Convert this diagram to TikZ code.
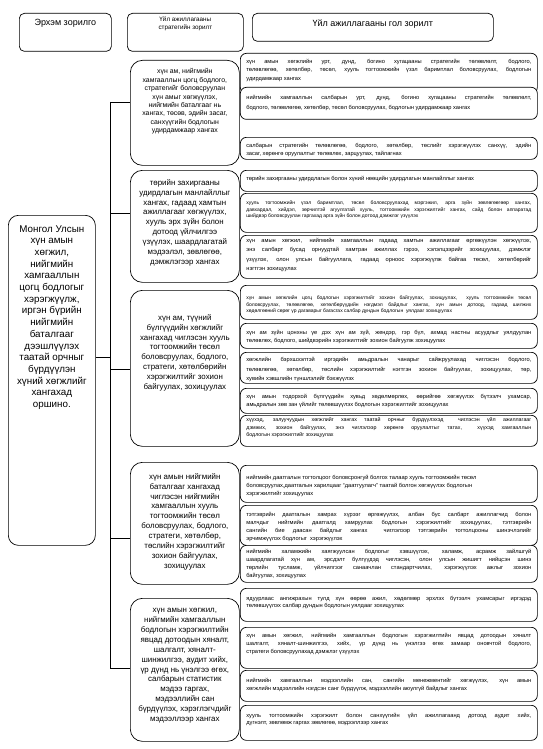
\documentclass[tikz,border=0pt]{standalone}
\usepackage{fontspec}
\setmainfont{Liberation Sans}
\usetikzlibrary{positioning}
\hyphenpenalty=10000
\tolerance=9999

% box text: [top pad]{width}{height}{text}, text starts at the top
\newcommand{\cellbox}[4][5pt]{\parbox[c][#3][t]{#2}{\vspace*{#1}#4}}

\begin{document}
\begin{tikzpicture}[
    x=1pt, y=-1pt,
    line width=0.7pt,
    headbox/.style={draw, rounded corners=5pt, anchor=north west, inner sep=0pt,
                    font=\fontsize{9}{11}\selectfont},
    goalbox/.style={draw, rounded corners=10pt, anchor=north west, inner xsep=2.5pt,
                    inner ysep=0pt, font=\fontsize{9.8}{11.7}\selectfont},
    stratbox/.style={draw, fill=white, rounded corners=12pt, anchor=north west,
                     inner xsep=2.5pt, inner ysep=0pt, font=\fontsize{7.9}{9.9}\selectfont},
    taskbox/.style={draw, fill=white, rounded corners=6pt, anchor=north west,
                    inner xsep=6pt, inner ysep=0pt, font=\fontsize{5.7}{8.3}\selectfont},
    smalltask/.style={taskbox, font=\fontsize{5}{6.7}\selectfont},
    link/.style={draw, line width=0.7pt},
  ]
    \useasboundingbox (0,0) rectangle (543,749);

    %% -- Column headings ------------------------------------
    \node[headbox] (hmission) at (19,13)
      {\cellbox[5.5pt]{92pt}{38pt}{\centering Эрхэм зорилго}};
    \node[headbox, font=\fontsize{6.3}{8}\selectfont] (hstrat) at (127,13)
      {\cellbox[3.5pt]{116pt}{38pt}{\centering Үйл ажиллагааны\\ стратегийн зорилт}};
    \node[headbox] (hmain) at (252,13)
      {\cellbox[6pt]{241pt}{28pt}{\centering Үйл ажиллагааны гол зорилт}};

    %% -- Mission --------------------------------------------
    \node[goalbox] (goal) at (8,215)
      {\cellbox[10pt]{82pt}{330pt}{\centering Монгол Улсын\\ хүн амын\\ хөгжил,\\ нийгмийн\\
        хамгааллын\\ цогц бодлогыг\\ хэрэгжүүлж,\\ иргэн бүрийн\\ нийгмийн\\ баталгааг\\
        дээшлүүлэх\\ таатай орчныг\\ бүрдүүлэн\\ хүний хөгжлийг\\ хангахад\\ оршино.}};

    %% -- Strategic objectives -------------------------------
    \node[stratbox, font=\fontsize{6.9}{8.4}\selectfont] (m1) at (130,60)
      {\cellbox[8.5pt]{104pt}{105pt}{\centering хүн ам, нийгмийн\\ хамгааллын цогц бодлого,\\
        стратегийг боловсруулан\\ хүн амыг хөгжүүлэх,\\ нийгмийн баталгааг нь\\
        хангах, төсөв, эдийн засаг,\\ санхүүгийн бодлогын\\ удирдамжаар хангах}};
    \node[stratbox] (m2) at (130,170)
      {\cellbox[9pt]{104pt}{112pt}{\centering төрийн захиргааны\\ удирдлагын манлайллыг\\
        хангах, гадаад хамтын\\ ажиллагааг хөгжүүлэх,\\ хууль эрх зүйн болон\\
        дотоод үйлчилгээ\\ үзүүлэх, шаардлагатай\\ мэдээлэл, зөвлөгөө,\\ дэмжлэгээр хангах}};
    \node[stratbox] (m3) at (130,290)
      {\cellbox[24pt]{104pt}{156pt}{\centering хүн ам, түүний\\ бүлгүүдийн хөгжлийг\\
        хангахад чиглэсэн хууль\\ тогтоомжийн төсөл\\ боловсруулах, бодлого,\\
        стратеги, хөтөлбөрийн\\ хэрэгжилтийг зохион\\ байгуулах, зохицуулах}};
    \node[stratbox] (m4) at (130,462)
      {\cellbox[11pt]{104pt}{122pt}{\centering хүн амын нийгмийн\\ баталгааг хангахад\\
        чиглэсэн нийгмийн\\ хамгааллын хууль\\ тогтоомжийн төсөл\\ боловсруулах, бодлого,\\
        стратеги, хөтөлбөр,\\ төслийн хэрэгжилтийг\\ зохион байгуулах,\\ зохицуулах}};
    \node[stratbox] (m5) at (130,598)
      {\cellbox[10pt]{104pt}{143pt}{\centering хүн амын хөгжил,\\ нийгмийн хамгааллын\\
        бодлогын хэрэгжилтийн\\ явцад дотоодын хяналт,\\ шалгалт, хяналт-\\
        шинжилгээ, аудит хийх,\\ үр дүнд нь үнэлгээ өгөх,\\ салбарын статистик\\
        мэдээ гаргах,\\ мэдээллийн сан\\ бүрдүүлэх, хэрэглэгчдийг\\ мэдээллээр хангах}};

    %% -- Main tasks -----------------------------------------
    \node[taskbox] (r1) at (240,53)
      {\cellbox[6pt]{285pt}{40pt}{хүн амын хөгжлийн урт, дунд, богино хугацааны стратегийн
        төлөвлөлт, бодлого,\linebreak төлөвлөгөө, хөтөлбөр, төсөл, хууль тогтоомжийн үзэл
        баримтлал боловсруулах, бодлогын\linebreak удирдамжаар хангах}};
    \node[taskbox, font=\fontsize{5.7}{9.5}\selectfont] (r2) at (240,87)
      {\cellbox[8pt]{285pt}{32pt}{нийгмийн хамгааллын салбарын урт, дунд, богино хугацааны
        стратегийн төлөвлөлт,\linebreak бодлого, төлөвлөгөө, хөтөлбөр, төсөл боловсруулах,
        бодлогын удирдамжаар хангах}};
    \node[taskbox] (r3) at (240,137)
      {\cellbox[6pt]{285pt}{22pt}{салбарын стратегийн төлөвлөгөө, бодлого, хөтөлбөр, төслийг
        хэрэгжүүлэх санхүү, эдийн\linebreak засаг, хөрөнгө оруулалтыг төлөвлөх, зарцуулах,
        тайлагнах}};
    \node[taskbox] (r4) at (240,170)
      {\cellbox[5.5pt]{285pt}{21pt}{төрийн захиргааны удирдлагын болон хүний нөөцийн
        удирдлагын манлайллыг хангах}};
    \node[smalltask] (r5) at (240,193)
      {\cellbox[7.5pt]{285pt}{39pt}{хууль тогтоомжийн үзэл баримтлал, төсөл боловсруулахад
        мэргэжил, арга зүйн зөвлөгөөгөөр хангах,\linebreak давхардал, хийдэл, зөрчилтэй
        агуулгатай хууль, тогтоомжийн хэрэгжилтийг хангах, сайд болон аппаратад\linebreak
        шийдвэр боловсруулан гаргахад арга зүйн болон дотоод дэмжлэг үзүүлэх}};
    \node[taskbox, font=\fontsize{5.7}{9.5}\selectfont] (r6) at (240,235)
      {\cellbox[2.5pt]{285pt}{43pt}{хүн амын хөгжил, нийгмийн хамгааллын гадаад хамтын
        ажиллагааг өргөжүүлэн хөгжүүлэх,\linebreak энэ салбарт бусад орнуудтай хамтран ажиллах
        гэрээ, хэлэлцээрийг зохицуулах, дэмжлэг\linebreak үзүүлэх, олон улсын байгууллага,
        гадаад орноос хэрэгжүүлж байгаа төсөл, хөтөлбөрийг\linebreak нэгтгэн зохицуулах}};
    \node[smalltask] (r7) at (240,285)
      {\cellbox[10.5pt]{285pt}{34pt}{хүн амын хөгжлийн цогц бодлогын хэрэгжилтийг зохион
        байгуулах, зохицуулах,\ \ хууль тогтоомжийн төсөл\linebreak боловсруулах, төлөвлөгөө,
        хөтөлбөрүүдийн нэгдмэл байдлыг хангах, хүн амын дотоод, гадаад шилжих\linebreak
        хөдөлгөөний сөрөг үр дагаварыг багасгах салбар дундын бодлогын\ \ уялдааг
        зохицуулах}};
    \node[taskbox] (r8) at (240,323)
      {\cellbox[7pt]{285pt}{25pt}{хүн ам зүйн цонхны үе дэх хүн ам зүй, жендэр, гэр бүл,
        ахмад настны асуудлыг уялдуулан\linebreak төлөвлөх, бодлого, шийдвэрийн хэрэгжилтийг
        зохион байгуулж зохицуулах}};
    \node[taskbox, font=\fontsize{5.7}{9.5}\selectfont] (r9) at (240,352)
      {\cellbox[5pt]{285pt}{31pt}{хөгжлийн бэрхшээлтэй иргэдийн амьдралын чанарыг
        сайжруулахад чиглэсэн бодлого,\linebreak төлөвлөгөө, хөтөлбөр, төслийн хэрэгжилтийг
        нэгтгэн зохион байгуулах, зохицуулах, төр,\linebreak хувийн хэвшлийн түншлэлийг
        бэхжүүлэх}};
    \node[taskbox, font=\fontsize{5.7}{8}\selectfont] (r10) at (240,388)
      {\cellbox[6pt]{285pt}{25pt}{хүн амын тодорхой бүлгүүдийн хувьд хөдөлмөрлөх, өөрийгөө
        хөгжүүлэх бүтээлч ухамсар,\linebreak амьдралын зөв зан үйлийг төлөвшүүлэх бодлогын
        хэрэгжилтийг зохицуулах}};
    \node[taskbox, font=\fontsize{5.3}{7.5}\selectfont] (r11) at (240,415)
      {\cellbox[2.5pt]{285pt}{31pt}{хүүхэд, залуучуудын хөгжлийг хангах таатай орчныг
        бүрдүүлэхэд\ \ чиглэсэн үйл ажиллагааг\linebreak дэмжих, зохион байгуулах, энэ
        чиглэлээр хөрөнгө оруулалтыг татах,\ \ хүүхэд хамгааллын\linebreak бодлогын
        хэрэгжилтийг зохицуулах}};
    \node[taskbox, font=\fontsize{5.7}{8}\selectfont] (r12) at (240,465)
      {\cellbox[10pt]{285pt}{37pt}{\raggedright нийгмийн даатгалын тогтолцоог боловсронгуй
        болгох талаар хууль тогтоомжийн төсөл\\ боловсруулах,даатгалын харилцааг
        ``даатгуулагч'' таатай болгон хөгжүүлэх бодлогын\\ хэрэгжилтийг зохицуулах}};
    \node[taskbox, font=\fontsize{5.7}{8.1}\selectfont] (r13) at (240,505)
      {\cellbox[6.5pt]{285pt}{40pt}{тэтгэврийн даатгалын хамрах хүрээг өргөжүүлэх, албан бус
        салбарт ажиллагчид болон\linebreak малчдыг нийгмийн даатгалд хамруулах бодлогын
        хэрэгжилтийг зохицуулах, тэтгэврийн\linebreak сангийн бие даасан байдлыг хангах\ \
        чиглэлээр тэтгэврийн тогтолцооны шинэчлэлийг\linebreak эрчимжүүлэх бодлогыг\ \
        хэрэгжүүлэх}};
    \node[taskbox] (r14) at (240,545)
      {\cellbox[3.5pt]{285pt}{37pt}{нийгмийн халамжийн хаягжуулсан бодлогыг хэвшүүлэх,
        халамж, асрамж зайлшгүй\linebreak шаардлагатай хүн ам, эрсдэлт бүлгүүдэд чиглэсэн,
        олон улсын жишигт нийцсэн шинэ\linebreak төрлийн тусламж, үйлчилгээг санаачлан
        стандартчилах, хэрэгжүүлэх ажлыг зохион\linebreak байгуулах, зохицуулах}};
    \node[taskbox, font=\fontsize{5.7}{7.2}\selectfont] (r15) at (240,588)
      {\cellbox[7.5pt]{285pt}{33pt}{ядуурлаас ангижрахын тулд хүн өөрөө ажил, хөдөлмөр
        эрхлэх бүтээлч ухамсарыг иргэдэд\linebreak төлөвшүүлэх салбар дундын бодлогын
        уялдааг зохицуулах}};
    \node[taskbox] (r16) at (240,627)
      {\cellbox[5.5pt]{285pt}{41pt}{хүн амын хөгжил, нийгмийн хамгааллын бодлогын
        хэрэгжилтийн явцад дотоодын хяналт\linebreak шалгалт, хяналт-шинжилгээ, хийх, үр
        дүнд нь үнэлгээ өгөх замаар оновчтой бодлого,\linebreak стратеги боловсруулахад
        дэмжлэг үзүүлэх}};
    \node[taskbox] (r17) at (240,670)
      {\cellbox[7.5pt]{285pt}{31pt}{нийгмийн хамгааллын мэдээллийн сан, сангийн
        менежментийг хөгжүүлэх, хүн амын\linebreak хөгжлийн мэдээллийн нэгдсэн санг
        бүрдүүлж, мэдээллийн аюулгүй байдлыг хангах}};
    \node[taskbox, font=\fontsize{5.7}{7.2}\selectfont] (r18) at (240,705)
      {\cellbox[7.5pt]{285pt}{35pt}{хууль тогтоомжийн хэрэгжилт болон санхүүгийн үйл
        ажиллагаанд дотоод аудит хийх,\linebreak дүгнэлт, зөвлөмж гаргах зөвлөгөө,
        мэдээллээр хангах}};

    %% -- Connectors -----------------------------------------
    \coordinate (j1) at (110,102);
    \coordinate (j2) at (110,213);
    \coordinate (jg) at (110,357);
    \coordinate (j3) at (110,369);
    \coordinate (j4) at (110,538);
    \coordinate (j5) at (110,668);
    \draw[link] (j1) -- (j5);
    \draw[link] (goal.east |- jg) -- (jg);
    \draw[link] (j1) -- (j1 -| m1.west);
    \draw[link] (j2) -- (j2 -| m2.west);
    \draw[link] (j3) -- (j3 -| m3.west);
    \draw[link] (j4) -- (j4 -| m4.west);
    \draw[link] (j5) -- (j5 -| m5.west);

  \end{tikzpicture}
\end{document}
